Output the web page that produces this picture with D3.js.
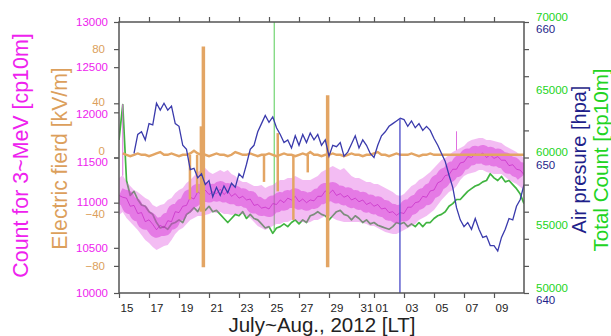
<!DOCTYPE html>
<html><head><meta charset="utf-8">
<script src="https://cdn.jsdelivr.net/npm/d3@7"></script>
<style>
html,body{margin:0;padding:0;background:#fff;}
svg{display:block;font-family:"Liberation Sans",Arial,sans-serif;}
</style>
</head><body>
<svg id="chart" width="611" height="336"></svg>
<script>
// ---------------- DATA ----------------
const xDomain = ["2012-07-15T00:00Z", "2012-08-11T00:00Z"];
const stepHours = 6;

// x-axis ticks (dates) and their labels
const xTickDates = ["2012-07-15","2012-07-17","2012-07-19","2012-07-21","2012-07-23","2012-07-25",
  "2012-07-27","2012-07-29","2012-07-31","2012-08-01","2012-08-03","2012-08-05","2012-08-07","2012-08-09"];
const xTickLabels = ["15","17","19","21","23","25","27","29","31","01","03","05","07","09"];

// left axes ticks
const countTicks = [10000,10500,11000,11500,12000,12500,13000];
const efTicks = [-80,-40,0,40,80];
// right axes ticks
const pressureTickMarks = [640,642,644,646,648,650,652,654,656,658,660];
const pressureLabels = [640,650,660];
const totalTicks = [50000,55000,60000,65000,70000];

// 3~MeV count (cp10m), 6-hourly envelope of the noisy record, from Jul 15 00:00
const countStart = "2012-07-15T00:00Z";
const countHi = [11273,11306,11229,11185,11140,11118,11085,11052,11030,10974,10952,10974,10985,11030,11052,11107,
  11140,11162,11218,11251,11295,11339,11361,11384,11339,11317,11339,11361,11339,11361,11317,11295,11251,11229,
  11229,11207,11185,11185,11196,11162,11185,11196,11229,11251,11251,11273,11273,11295,11273,11251,11251,11251,
  11273,11295,11339,11361,11384,11406,11384,11361,11384,11339,11295,11273,11273,11251,11229,11229,11207,11207,
  11185,11162,11140,11118,11085,11074,11096,11140,11185,11207,11251,11273,11306,11339,11384,11428,11472,11494,
  11528,11561,11583,11605,11627,11672,11694,11705,11716,11716,11694,11694,11683,11672,11661,11627,11605,11583,
  11561,11528,11494];
const countLo = [10864,10897,10830,10786,10742,10697,10642,10587,10554,10509,10476,10498,10520,10532,10587,10653,
  10697,10720,10764,10808,10830,10852,10852,10864,10875,10897,10886,10897,10875,10875,10864,10875,10875,10875,
  10852,10830,10786,10742,10720,10697,10720,10742,10764,10764,10786,10786,10808,10808,10786,10786,10775,10786,
  10808,10808,10830,10852,10852,10830,10808,10797,10786,10786,10786,10786,10786,10775,10764,10742,10742,10720,
  10697,10675,10664,10653,10653,10675,10697,10720,10742,10764,10808,10830,10852,10886,10919,10974,11030,11074,
  11118,11140,11185,11251,11295,11317,11328,11339,11361,11361,11339,11328,11317,11317,11317,11284,11251,11229,
  11207,11173,11140];
const countMid = [11080,11060,11050,10960,10970,10880,10890,10790,10810,10760,10700,10750,10720,10800,10790,10900,
  10890,10960,10970,11060,11040,11120,11090,11140,11090,11120,11100,11150,11090,11130,11070,11100,11050,11070,
  11030,11040,10970,10980,10940,10950,10930,10990,10980,11030,11000,11050,11030,11070,11010,11040,11000,11030,
  11020,11070,11070,11130,11100,11140,11080,11100,11060,11080,11030,11050,11010,11030,10980,11000,10960,10980,
  10930,10940,10890,10900,10860,10890,10880,10950,10950,11000,11010,11070,11060,11130,11140,11220,11240,11300,
  11310,11370,11370,11440,11450,11510,11500,11540,11520,11550,11500,11530,11490,11510,11470,11470,11410,11420,
  11370,11360,11310];
// isolated count spikes
const countSpikeTimes = ["2012-07-15T06:00Z","2012-08-06T12:00Z"];
const countSpikeFrom = [11300, 11580];
const countSpikeTo = [12090, 11790];

// Total count (cp10m), 6-hourly from Jul 15 00:00
const totalStart = "2012-07-15T00:00Z";
const totalCount = [61300,63900,58300,57200,57500,56900,56500,56400,56000,55800,55200,54800,54900,54700,55100,55200,
  55400,55200,55800,56000,56300,56000,56500,56100,56400,56000,56100,55800,55500,55200,55500,55800,55700,56000,
  55500,55800,55500,55400,55100,54800,54900,54400,54800,54900,55100,54900,55200,55400,55100,55400,55200,55700,
  55800,56000,55800,55700,55400,55700,56000,56100,55800,55700,55400,55700,55500,55200,55400,55100,55200,55000,
  54900,54800,54700,54900,55200,55100,55200,54900,55100,54900,55200,54900,55200,55200,55500,55700,55800,56000,
  56400,56600,56900,56900,57200,57500,57700,57900,58000,58200,58300,58800,58500,58300,58600,58200,58300,58000,
  57700,57300,56600];
const totalSpikeTimes = ["2012-07-25T08:20Z"];
const totalSpikeFrom = [54600];
const totalSpikeTo = [71000];

// Air pressure (hPa), 6-hourly from Jul 16 00:00
const pressureStart = "2012-07-16T00:00Z";
const pressure = [650.3,651.7,651.9,651.3,652.5,652.4,654.0,653.5,654.0,653.5,653.8,652.5,652.3,650.9,650.6,649.1,
  649.2,648.5,648.8,648.0,648.3,647.1,647.8,647.2,647.9,647.4,648.1,647.8,648.8,648.5,649.5,650.6,650.9,651.9,
  652.5,653.1,652.6,653.0,652.2,651.7,651.1,651.3,650.7,651.6,650.9,651.7,651.1,651.8,651.3,651.7,650.9,651.3,
  650.1,650.9,650.8,651.1,650.1,650.4,651.0,651.6,650.7,651.3,650.9,650.3,650.0,650.9,651.6,651.9,652.3,652.5,
  652.7,652.9,652.8,652.3,652.7,652.2,652.5,652.0,652.3,652.0,651.4,650.9,650.3,649.7,648.7,647.8,646.3,645.4,
  644.9,645.2,644.7,645.5,644.7,644.1,644.2,643.5,643.5,643.1,644.1,644.7,645.5,645.4,646.4,646.9,648.0];
const pressureSpikeTimes = ["2012-08-02T17:30Z"];
const pressureSpikeFrom = [652.9];
const pressureSpikeTo = [639];

// Electric field (kV/m), 6-hourly baseline from Jul 15 06:00
const efStart = "2012-07-15T06:00Z";
const efield = [3,2,1,2,3,2,2,1,2,3,4,2, 2,3,2,1,2,2,3,5,3,2,2,1, 2,3,2,2,1,2,4,3,2,2,3,2,
  1,2,2,3,2,1,2,3,2,2,1,2, 3,2,4,2,2,1,2,2,3,2,2,1, 2,3,2,2,1,2,2,3,4,2,2,1,
  2,3,2,2,2,3,2,1,2,2,3,2, 2,2,2,2,2,2,2,2,2,2,2,2, 2,2,2,2,2,2,2,2,2,2,2,2];
// Electric field bursts (min / max during burst)
const efSpikeTimes = ["2012-07-19T17:30Z","2012-07-20T05:00Z","2012-07-20T11:00Z","2012-07-20T15:00Z",
  "2012-07-24T16:00Z","2012-07-25T14:00Z","2012-07-26T15:00Z","2012-07-27T14:00Z","2012-07-28T21:50Z"];
const efSpikeMax = [2, 2, 23, 82, 2, 18, 2, 2, 46];
const efSpikeMin = [-31, -26, -40, -81, -18, -25, -46, -11, -81];

// ---------------- CHART ----------------
const W = 611, H = 336;
const M = {left:119, top:22, right:87, bottom:43};
const svg = d3.select("#chart");

const C = {
  magenta: "#e020e0", magentaText: "#ee22ee",
  tan: "#e3a564", tanText: "#dc9f5c",
  blue: "#3a3aac", blueText: "#1f1f8a",
  green: "#3cb03c", greenText: "#22d422",
  frame: "#555"
};

const x = d3.scaleUtc().domain(xDomain.map(d => new Date(d))).range([M.left, W - M.right]);
const yCount = d3.scaleLinear().domain([10000, 13000]).range([H - M.bottom, M.top]);
const yEF = d3.scaleLinear().domain([-100, 100]).range([H - M.bottom, M.top]);
const yP = d3.scaleLinear().domain([640, 660]).range([H - M.bottom, M.top]);
const yT = d3.scaleLinear().domain([50000, 70000]).range([H - M.bottom, M.top]);

function series(start, vals) {
  const t0 = new Date(start).getTime();
  return vals.map((v, i) => ({t: new Date(t0 + i * stepHours * 3600e3), v, i}));
}

svg.append("defs").append("clipPath").attr("id", "clip")
  .append("rect").attr("x", M.left).attr("y", M.top)
  .attr("width", W - M.left - M.right).attr("height", H - M.top - M.bottom);

const plot = svg.append("g").attr("clip-path", "url(#clip)");

// Green total count
const totalData = series(totalStart, totalCount);
plot.append("path").datum(totalData)
  .attr("fill", "none").attr("stroke", "#40b440").attr("stroke-width", 1.7)
  .attr("stroke-linejoin", "round")
  .attr("d", d3.line().x(d => x(d.t)).y(d => yT(d.v)));
plot.selectAll(".tspike").data(totalSpikeTimes).join("line")
  .attr("x1", (d) => x(new Date(d))).attr("x2", d => x(new Date(d)))
  .attr("y1", (d, i) => yT(totalSpikeFrom[i])).attr("y2", (d, i) => yT(totalSpikeTo[i]))
  .attr("stroke", "#55cc55").attr("stroke-width", 1);

// Magenta count band
const cData = countHi.map((h, i) => ({t: new Date(new Date(countStart).getTime() + i * stepHours * 3600e3), hi: h, lo: countLo[i], mid: countMid[i]}));
plot.append("path").datum(cData)
  .attr("fill", "#e050e0").attr("fill-opacity", 0.38)
  .attr("d", d3.area().x(d => x(d.t)).y0(d => yCount(d.lo)).y1(d => yCount(d.hi)));
plot.append("path").datum(cData)
  .attr("fill", "none").attr("stroke", "#d838d8").attr("stroke-width", 16).attr("stroke-opacity", 0.5)
  .attr("stroke-linejoin", "round").attr("stroke-linecap", "butt")
  .attr("d", d3.line().x(d => x(d.t)).y(d => yCount(d.mid)));
plot.append("path").datum(cData)
  .attr("fill", "none").attr("stroke", "#c21cc2").attr("stroke-width", 1).attr("stroke-opacity", 0.6)
  .attr("d", d3.line().x(d => x(d.t)).y(d => yCount(d.mid)));
plot.selectAll(".cspike").data(countSpikeTimes).join("line")
  .attr("x1", d => x(new Date(d))).attr("x2", d => x(new Date(d)))
  .attr("y1", (d, i) => yCount(countSpikeFrom[i])).attr("y2", (d, i) => yCount(countSpikeTo[i]))
  .attr("stroke", "#e070e0").attr("stroke-width", 1);

// Electric field
const efData = series(efStart, efield);
plot.append("path").datum(efData)
  .attr("fill", "none").attr("stroke", C.tan).attr("stroke-width", 2.4)
  .attr("d", d3.line().x(d => x(d.t)).y(d => yEF(d.v)));
plot.selectAll(".efspike").data(efSpikeTimes).join("line")
  .attr("x1", d => x(new Date(d))).attr("x2", d => x(new Date(d)))
  .attr("y1", (d, i) => yEF(efSpikeMax[i])).attr("y2", (d, i) => yEF(efSpikeMin[i]))
  .attr("stroke", C.tan).attr("stroke-width", (d, i) => (efSpikeMax[i] - efSpikeMin[i] > 100 ? 3.5 : 2.5));

// Pressure
const pData = series(pressureStart, pressure);
plot.append("path").datum(pData)
  .attr("fill", "none").attr("stroke", C.blue).attr("stroke-width", 1.3)
  .attr("d", d3.line().x(d => x(d.t)).y(d => yP(d.v)));
plot.selectAll(".pspike").data(pressureSpikeTimes).join("line")
  .attr("x1", d => x(new Date(d))).attr("x2", d => x(new Date(d)))
  .attr("y1", (d, i) => yP(pressureSpikeFrom[i])).attr("y2", (d, i) => yP(pressureSpikeTo[i]))
  .attr("stroke", "#5555cc").attr("stroke-width", 1.4);

// ---------------- AXES ----------------
const x0 = M.left, x1 = W - M.right, yTop = M.top, yBot = H - M.bottom;
const tickDates = xTickDates.map(d => new Date(d + "T00:00Z"));

function styleAxis(g) {
  g.select(".domain").remove();
  g.selectAll(".tick line").attr("stroke", C.frame).attr("stroke-width", 1.2);
  g.selectAll("text").attr("font-family", '"Liberation Sans", Arial, sans-serif');
}

// bottom
const gx = svg.append("g").attr("transform", `translate(0,${yBot})`)
  .call(d3.axisBottom(x).tickValues(tickDates).tickSize(5).tickFormat((d, i) => xTickLabels[i]).tickPadding(6))
  .call(styleAxis);
gx.selectAll(".tick text").attr("font-size", 11.5).attr("fill", "#222")
  .attr("x", d => x(new Date(d.getTime() + 12 * 3600e3)) - x(d));
// top ticks
svg.append("g").attr("transform", `translate(0,${yTop})`)
  .call(d3.axisTop(x).tickValues(tickDates).tickSize(5).tickFormat(""))
  .call(styleAxis);

// left: count
const countDy = {11500: "0.72em", 12000: "0.45em", 11000: "0.22em"};
const gc = svg.append("g").attr("transform", `translate(${x0},0)`)
  .call(d3.axisLeft(yCount).tickValues(countTicks).tickSize(5).tickPadding(6).tickFormat(d3.format("d")))
  .call(styleAxis);
gc.selectAll(".tick text").attr("font-size", 11.5).attr("fill", C.magentaText)
  .attr("dy", d => countDy[d] || "0.32em");
// left: electric field
const efDy = {0: "-0.3em", 40: "0.15em", "-40": "0.5em"};
const ge = svg.append("g").attr("transform", `translate(${x0},0)`)
  .call(d3.axisLeft(yEF).tickValues(efTicks).tickSize(5).tickPadding(9))
  .call(styleAxis);
ge.selectAll(".tick text").attr("font-size", 11.5).attr("fill", C.tanText)
  .attr("dy", d => efDy[d] || "0.32em");

// right: tick marks (pressure)
svg.append("g").attr("transform", `translate(${x1},0)`)
  .call(d3.axisRight(yP).tickValues(pressureTickMarks).tickSize(5).tickFormat(""))
  .call(styleAxis);
// right labels: total count
const gt = svg.append("g").attr("transform", `translate(${x1},0)`)
  .call(d3.axisRight(yT).tickValues(totalTicks).tickSize(0).tickPadding(12).tickFormat(d3.format("d")))
  .call(styleAxis);
gt.selectAll(".tick text").attr("font-size", 11.5).attr("fill", C.greenText)
  .attr("dy", d => (d % 10000 === 0 ? "-0.15em" : "0.32em"));
// right labels: pressure
const gp = svg.append("g").attr("transform", `translate(${x1},0)`)
  .call(d3.axisRight(yP).tickValues(pressureLabels).tickSize(0).tickPadding(12).tickFormat(d3.format("d")))
  .call(styleAxis);
gp.selectAll(".tick text").attr("font-size", 11.5).attr("fill", C.blueText).attr("dy", "0.95em");

// frame
svg.append("rect").attr("x", x0).attr("y", yTop).attr("width", x1 - x0).attr("height", yBot - yTop)
  .attr("fill", "none").attr("stroke", C.frame).attr("stroke-width", 1.5);

// titles
svg.append("text").attr("x", (x0 + x1) / 2 + 0.5).attr("y", 332).attr("text-anchor", "middle")
  .attr("font-size", 20.5).attr("fill", "#222").text("July~Aug., 2012 [LT]");
function vTitle(xb, yc, txt, color, size) {
  svg.append("text").attr("transform", `translate(${xb},${yc}) rotate(-90)`)
    .attr("text-anchor", "middle").attr("font-size", size).attr("fill", color).text(txt);
}
vTitle(28, 155.5, "Count for 3~MeV [cp10m]", C.magentaText, 21.4);
vTitle(67, 158.5, "Electric fierd [kV/m]", C.tanText, 21.2);
vTitle(586, 159.5, "Air presure [hpa]", C.blueText, 20);
vTitle(608, 160, "Total Count [cp10m]", C.greenText, 20.6);
</script>
</body></html>
